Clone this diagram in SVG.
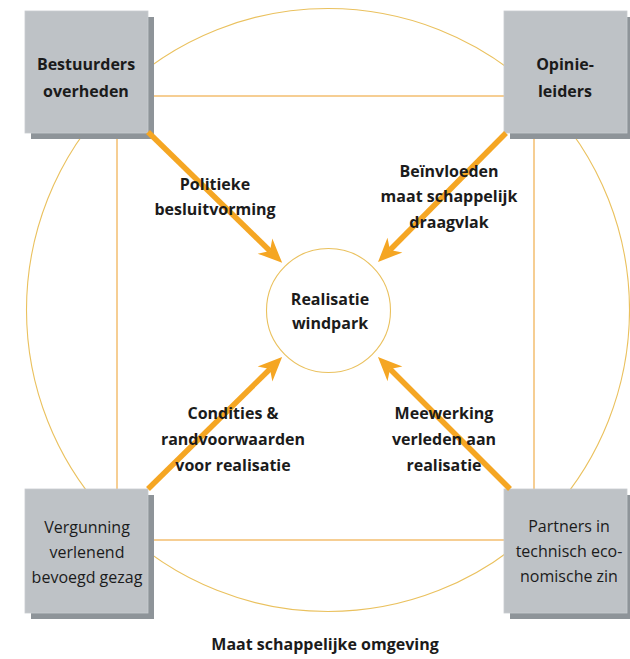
<svg xmlns="http://www.w3.org/2000/svg" width="630" height="659" viewBox="0 0 630 659">
<style>
.ring{fill:none;stroke:#EAC15E;stroke-width:1.1}
.frame{fill:none;stroke:#F2B45A;stroke-width:1.3}
.box{fill:#BEC2C6;stroke:#C9CCD0;stroke-width:0.8}
.shadow{fill:#8E9499}
.t{font-family:"Open Sans","Noto Sans",sans-serif;font-size:16px;fill:#1b1b1b;text-anchor:middle}
.b{font-weight:700}
.r{font-weight:400}
.arrow{stroke:#F5A623;stroke-width:5.5;fill:none;marker-end:url(#head)}
</style>
<defs>
<marker id="head" markerUnits="userSpaceOnUse" markerWidth="40" markerHeight="40" viewBox="-20 -20 40 40" refX="0" refY="0" orient="auto">
<path d="M17,0 L-7,-10.5 L0,0 L-7,10.5 Z" fill="#F5A623"/>
</marker>
</defs>
<rect width="630" height="659" fill="#FFFFFF"/>
<g id="environment">
<circle class="ring" cx="328" cy="310" r="301.5"/>
<rect class="frame" x="117" y="96" width="417" height="444"/>
<text class="t b" x="325" y="650">Maat schappelijke omgeving</text>
</g>
<g id="center">
<circle class="ring" cx="328.5" cy="310.5" r="62" fill="#FFFFFF"/>
<text class="t b" x="330" y="305">Realisatie</text>
<text class="t b" x="330" y="329">windpark</text>
</g>
<g id="bestuurders">
<rect class="shadow" x="31" y="17" width="123" height="122"/>
<rect class="box" x="25" y="11" width="123" height="122"/>
<text class="t b" x="86" y="70">Bestuurders</text>
<text class="t b" x="86" y="97">overheden</text>
</g>
<g id="opinieleiders">
<rect class="shadow" x="510" y="17" width="123" height="122"/>
<rect class="box" x="504" y="11" width="123" height="122"/>
<text class="t b" x="565" y="70">Opinie-</text>
<text class="t b" x="565" y="97">leiders</text>
</g>
<g id="vergunning">
<rect class="shadow" x="31" y="495" width="123" height="124"/>
<rect class="box" x="25" y="489" width="123" height="124"/>
<text class="t r" x="87" y="533">Vergunning</text>
<text class="t r" x="87" y="558">verlenend</text>
<text class="t r" x="87" y="583">bevoegd gezag</text>
</g>
<g id="partners">
<rect class="shadow" x="510" y="495" width="123" height="124"/>
<rect class="box" x="504" y="489" width="123" height="124"/>
<text class="t r" x="569" y="532">Partners in</text>
<text class="t r" x="569" y="557">technisch eco-</text>
<text class="t r" x="569" y="582">nomische zin</text>
</g>
<g id="connectors">
<line class="arrow" x1="148" y1="132" x2="270" y2="251"/>
<line class="arrow" x1="506" y1="133" x2="390" y2="250"/>
<line class="arrow" x1="148" y1="489" x2="270" y2="369"/>
<line class="arrow" x1="510" y1="489" x2="390" y2="369"/>
<text class="t b" x="215" y="190">Politieke</text>
<text class="t b" x="215" y="215">besluitvorming</text>
<text class="t b" x="449" y="177">Beïnvloeden</text>
<text class="t b" x="449" y="202">maat schappelijk</text>
<text class="t b" x="449" y="228">draagvlak</text>
<text class="t b" x="233" y="419">Condities &amp;</text>
<text class="t b" x="233" y="445">randvoorwaarden</text>
<text class="t b" x="233" y="471">voor realisatie</text>
<text class="t b" x="444" y="419">Meewerking</text>
<text class="t b" x="444" y="445">verleden aan</text>
<text class="t b" x="444" y="471">realisatie</text>
</g>
</svg>
